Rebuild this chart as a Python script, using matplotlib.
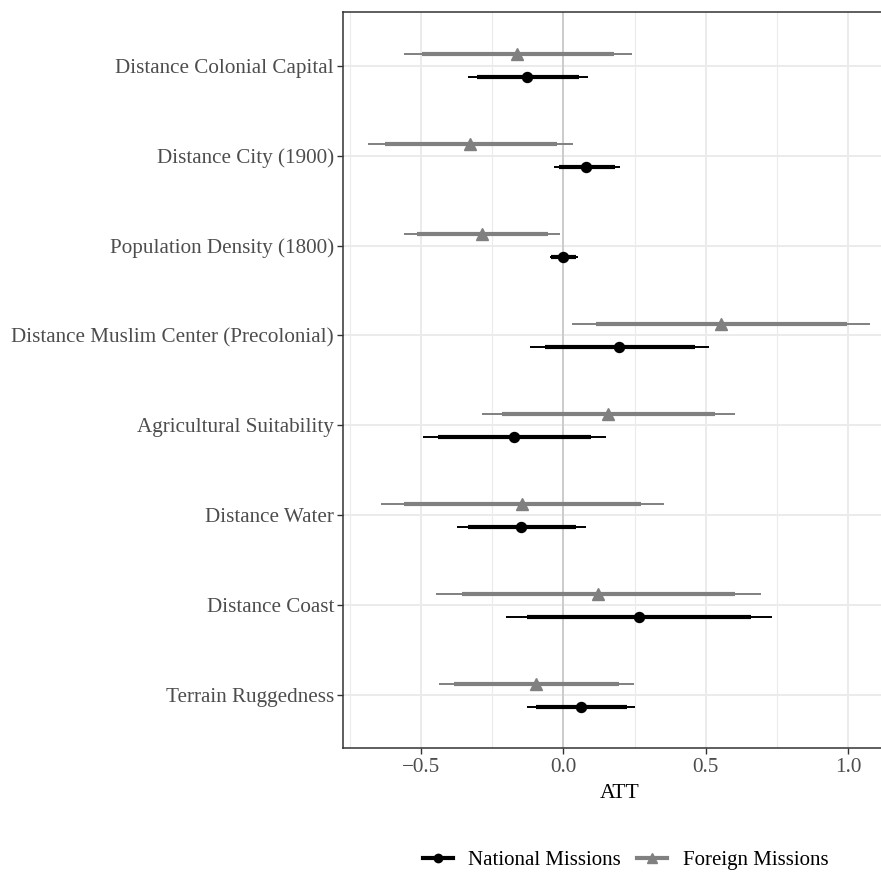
import matplotlib
matplotlib.use("Agg")
import matplotlib.pyplot as plt
from matplotlib.lines import Line2D
from matplotlib.ticker import FixedLocator
import numpy as np

plt.rcParams['font.family'] = ['Liberation Serif', 'DejaVu Serif']

# covariates, top to bottom
categories = ["Distance Colonial Capital", "Distance City (1900)",
              "Population Density (1800)", "Distance Muslim Center (Precolonial)",
              "Agricultural Suitability", "Distance Water", "Distance Coast",
              "Terrain Ruggedness"]

# National Missions: estimate, inner (thick) and outer (thin) intervals
national_est = [-0.126, 0.080, 0.000, 0.195, -0.172, -0.148, 0.264, 0.061]
national_lo_in = [-0.302, -0.015, -0.042, -0.065, -0.439, -0.336, -0.126, -0.096]
national_hi_in = [0.055, 0.182, 0.046, 0.462, 0.097, 0.044, 0.658, 0.222]
national_lo_out = [-0.335, -0.033, -0.048, -0.116, -0.491, -0.372, -0.201, -0.127]
national_hi_out = [0.087, 0.200, 0.052, 0.512, 0.149, 0.079, 0.732, 0.252]

# Foreign Missions
foreign_est = [-0.162, -0.328, -0.287, 0.552, 0.156, -0.144, 0.121, -0.096]
foreign_lo_in = [-0.496, -0.627, -0.515, 0.115, -0.215, -0.559, -0.356, -0.384]
foreign_hi_in = [0.176, -0.023, -0.055, 0.994, 0.533, 0.273, 0.601, 0.195]
foreign_lo_out = [-0.560, -0.685, -0.560, 0.030, -0.285, -0.639, -0.447, -0.436]
foreign_hi_out = [0.240, 0.034, -0.011, 1.076, 0.604, 0.353, 0.692, 0.248]

x_ticks = [-0.5, 0.0, 0.5, 1.0]

W, H = 881, 874
fig = plt.figure(figsize=(W / 100, H / 100), dpi=100)
left, right, top, bottom = 343.4, 895.0, 11.7, 748.3
ax = fig.add_axes([left / W, 1 - bottom / H, (right - left) / W, (bottom - top) / H])

n = len(categories)
ypos = np.arange(n)[::-1]
dodge = 0.13

series = [
    (foreign_est, foreign_lo_in, foreign_hi_in, foreign_lo_out, foreign_hi_out,
     '#808080', '^', 8.5, dodge),
    (national_est, national_lo_in, national_hi_in, national_lo_out, national_hi_out,
     'black', 'o', 7.2, -dodge),
]

ax.axvline(0, color='#cccccc', lw=1.4, zorder=1)
for est, lo_in, hi_in, lo_out, hi_out, col, mk, ms, off in series:
    y = ypos + off
    ax.hlines(y, lo_out, hi_out, color=col, lw=1.4, zorder=3)
    ax.hlines(y, lo_in, hi_in, color=col, lw=3.0, zorder=3)
    ax.plot(est, y, ls='none', marker=mk, ms=ms, color=col, zorder=4)

ax.set_xlim(-0.772, 1.164)
ax.set_ylim(-0.59, n - 1 + 0.6)
ax.set_yticks(ypos)
ax.set_yticklabels(categories)
ax.xaxis.set_major_locator(FixedLocator(x_ticks))
ax.xaxis.set_minor_locator(FixedLocator([-0.75, -0.25, 0.25, 0.75]))
ax.tick_params(axis='both', which='major', labelsize=15.2, labelcolor='#4d4d4d',
               color='#333333', length=4.3, width=1.0, pad=2.5)
ax.tick_params(axis='x', which='minor', length=0)
ax.grid(which='major', color='#ebebeb', lw=1.4)
ax.grid(which='minor', axis='x', color='#ebebeb', lw=0.8)
ax.set_axisbelow(True)
for s in ax.spines.values():
    s.set_color('#333333')
    s.set_linewidth(1.1)
ax.set_xlabel('ATT', fontsize=15.6, labelpad=5)

handles = [
    Line2D([], [], color='black', lw=3.0, marker='o', ms=6),
    Line2D([], [], color='#808080', lw=3.0, marker='^', ms=7),
]
fig.legend(handles, ['National Missions', 'Foreign Missions'], loc='center',
           bbox_to_anchor=(625.5 / W, 1 - 860 / H), ncol=2, frameon=False,
           fontsize=15, handlelength=1.45, handletextpad=0.75, columnspacing=0.75)

fig.savefig('out.png', dpi=100)
